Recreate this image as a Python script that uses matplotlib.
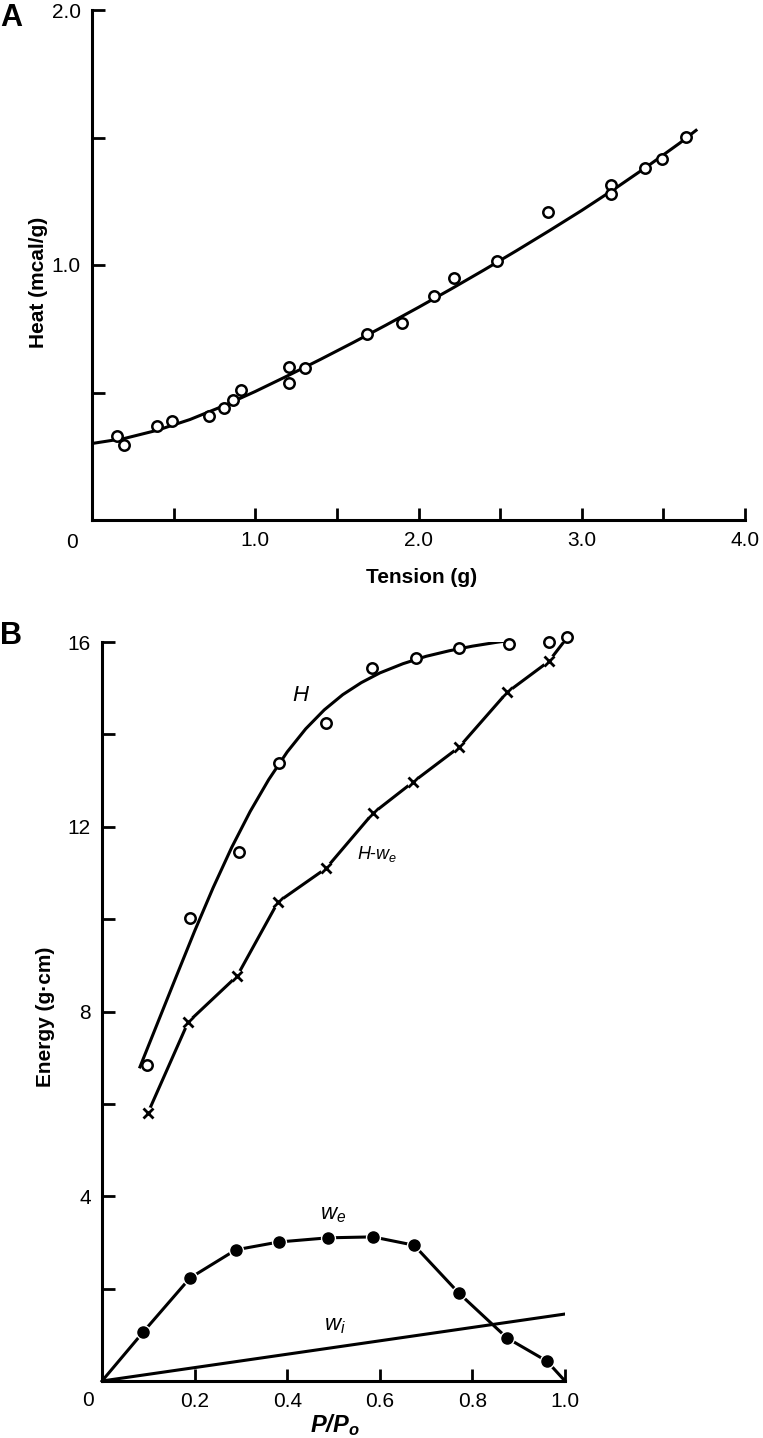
"""
Two-panel figure: heat vs tension (A) and energy partition vs relative load (B).
"""

import matplotlib
matplotlib.use("Agg")
import matplotlib.pyplot as plt

plt.rcParams['font.family'] = ['Liberation Sans', 'DejaVu Sans']
plt.rcParams['mathtext.fontset'] = 'custom'
plt.rcParams['mathtext.rm'] = 'Liberation Sans'
plt.rcParams['mathtext.it'] = 'Liberation Sans:italic'
plt.rcParams['mathtext.bf'] = 'Liberation Sans:bold:italic'

# --- Panel A data ---
tension = [0.153, 0.196, 0.399, 0.491, 0.718, 0.810, 0.865, 0.914, 1.209, 1.209,
           1.307, 1.687, 1.896, 2.098, 2.215, 2.479, 2.791, 3.178, 3.178, 3.387,
           3.491, 3.638]
heat = [0.331, 0.294, 0.369, 0.388, 0.408, 0.439, 0.471, 0.510, 0.600, 0.537,
        0.596, 0.729, 0.773, 0.878, 0.949, 1.016, 1.208, 1.314, 1.278, 1.380,
        1.416, 1.502]

# fitted curve
fit_tension = [0.0, 0.2, 0.4, 0.6, 0.8, 1.0, 1.2, 1.4, 1.6, 1.8, 2.0, 2.2, 2.4,
               2.6, 2.8, 3.0, 3.2, 3.4, 3.6, 3.7]
fit_heat = [0.300, 0.320, 0.352, 0.394, 0.446, 0.504, 0.566, 0.630, 0.696, 0.764,
            0.834, 0.906, 0.980, 1.056, 1.134, 1.214, 1.298, 1.386, 1.478, 1.528]

# --- Panel B data ---
load = [0.097, 0.190, 0.296, 0.382, 0.484, 0.583, 0.678, 0.771, 0.879, 0.965, 1.005]
H = [6.84, 10.02, 11.45, 13.38, 14.24, 15.43, 15.65, 15.87, 15.95, 16.00, 16.10]

H_fit_load = [0.082, 0.12, 0.16, 0.20, 0.24, 0.28, 0.32, 0.36, 0.40, 0.44, 0.48,
              0.52, 0.56, 0.60, 0.65, 0.70, 0.75, 0.80, 0.85, 0.90, 0.95, 1.00]
H_fit = [6.80, 7.75, 8.75, 9.74, 10.68, 11.55, 12.33, 13.02, 13.62, 14.12, 14.53,
         14.86, 15.12, 15.33, 15.53, 15.69, 15.81, 15.91, 15.99, 16.06, 16.11, 16.15]

hwe_load = [0.099, 0.186, 0.292, 0.380, 0.484, 0.585, 0.672, 0.771, 0.875, 0.965]
H_minus_we = [5.80, 7.77, 8.77, 10.37, 11.10, 12.29, 12.97, 13.72, 14.91, 15.58]

we_load = [0.089, 0.190, 0.289, 0.382, 0.488, 0.585, 0.674, 0.771, 0.875, 0.961]
we = [1.06, 2.23, 2.84, 3.01, 3.10, 3.12, 2.94, 1.90, 0.93, 0.43]

wi_load = [0.0, 1.0]
wi = [0.0, 1.45]

LW = 2.2
W, H_PX = 763, 1438


def style_axes(ax):
    for side in ('top', 'right'):
        ax.spines[side].set_visible(False)
    for side in ('left', 'bottom'):
        ax.spines[side].set_linewidth(2.2)
    ax.tick_params(direction='in', length=9, width=2.0, labelsize=15, pad=8)


fig = plt.figure(figsize=(W / 100, H_PX / 100), dpi=100)

# ---------------- Panel A ----------------
axA = fig.add_axes([92 / W, 1 - 520 / H_PX, (745 - 92) / W, (520 - 10) / H_PX])
axA.plot(fit_tension, fit_heat, color='black', lw=LW, zorder=2,
         solid_joinstyle='round')
axA.plot(tension, heat, 'o', ms=7.5, mfc='white', mec='black', mew=1.8, zorder=3)
axA.set_xlim(0, 4.0)
axA.set_ylim(0, 2.0)
axA.set_xticks([0.5, 1.0, 1.5, 2.0, 2.5, 3.0, 3.5, 4.0])
axA.set_xticklabels(['', '1.0', '', '2.0', '', '3.0', '', '4.0'])
axA.set_yticks([0.5, 1.0, 1.5, 2.0])
axA.set_yticklabels(['', '1.0', '', '2.0'])
style_axes(axA)
axA.text(-0.03, -0.045, '0', transform=axA.transAxes, ha='center', va='center',
         fontsize=15)
axA.set_xlabel('Tension (g)', fontsize=15, fontweight='bold')
axA.xaxis.set_label_coords(0.505, -0.094)
axA.set_ylabel('Heat (mcal/g)', fontsize=15, fontweight='bold')
axA.yaxis.set_label_coords(-0.067, 0.465)
fig.text(0 / W, 1 - 18 / H_PX, 'A', fontsize=22, fontweight='bold', va='center')

# ---------------- Panel B ----------------
axB = fig.add_axes([102 / W, 1 - 1381 / H_PX, (565 - 102) / W, (1381 - 642) / H_PX])
axB.plot(H_fit_load, H_fit, color='black', lw=LW, zorder=2,
         solid_joinstyle='round')
axB.plot(load, H, 'o', ms=7.5, mfc='white', mec='black', mew=1.8, zorder=3,
         clip_on=False)

# H - we: broken line with x markers
axB.plot(hwe_load + [load[-1]], H_minus_we + [H[-1]], color='black', lw=LW, zorder=2)
axB.plot(hwe_load, H_minus_we, 'o', ms=9, mfc='white', mec='none', zorder=2.5)
axB.plot(hwe_load, H_minus_we, 'x', ms=6.5, mec='black', mew=2.0, zorder=3)

# we: broken line with filled circles
axB.plot([0.0] + we_load + [1.0], [0.0] + we + [0.0], color='black', lw=LW,
         zorder=2, clip_on=False)
axB.plot(we_load, we, 'o', ms=11, mfc='white', mec='none', zorder=2.5)
axB.plot(we_load, we, 'o', ms=8, mfc='black', mec='black', zorder=3)

# wi straight line
axB.plot(wi_load, wi, color='black', lw=LW, zorder=2)

axB.set_xlim(0, 1.0)
axB.set_ylim(0, 16)
axB.set_xticks([0.2, 0.4, 0.6, 0.8, 1.0])
axB.set_xticklabels(['0.2', '0.4', '0.6', '0.8', '1.0'])
axB.set_yticks([2, 4, 6, 8, 10, 12, 14, 16])
axB.set_yticklabels(['', '4', '', '8', '', '12', '', '16'])
style_axes(axB)
axB.text(-0.03, -0.026, '0', transform=axB.transAxes, ha='center', va='center',
         fontsize=15)
axB.set_xlabel(r'$\mathbf{P/P_o}$', fontsize=17)
axB.xaxis.set_label_coords(0.503, -0.042)
axB.set_ylabel('Energy (g\u00b7cm)', fontsize=15, fontweight='bold')
axB.yaxis.set_label_coords(-0.1015, 0.493)

axB.text(0.43, 14.85, '$H$', fontsize=16, ha='center', va='center')
axB.text(0.55, 11.4, '$H$-$w_e$', fontsize=13, ha='left', va='center')
axB.text(0.47, 3.6, '$w_e$', fontsize=16, ha='left', va='center')
axB.text(0.48, 1.2, '$w_i$', fontsize=16, ha='left', va='center')
fig.text(0 / W, 1 - 636 / H_PX, 'B', fontsize=22, fontweight='bold', va='center')

fig.savefig('out.png', dpi=100)
